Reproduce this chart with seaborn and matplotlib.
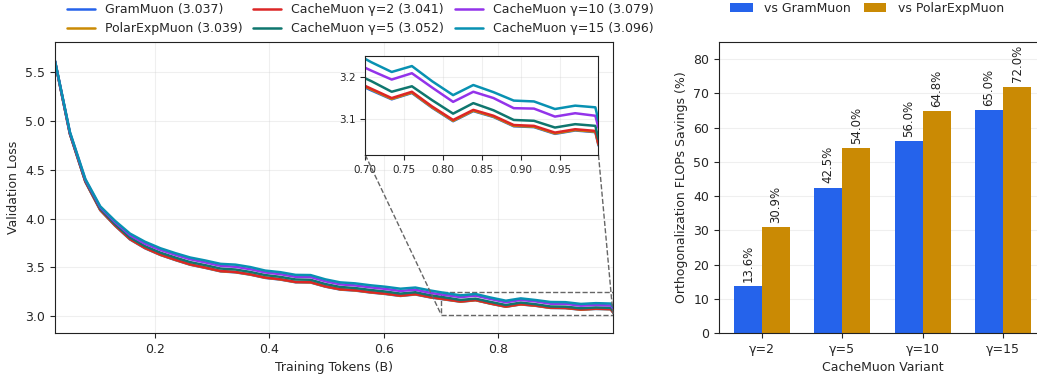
import numpy as np
import pandas as pd
import matplotlib
matplotlib.use("Agg")
import matplotlib.pyplot as plt
import seaborn as sns
from mpl_toolkits.axes_grid1.inset_locator import mark_inset

# ---------------- data ----------------
tokens = [0.026, 0.052, 0.079, 0.105, 0.131, 0.157, 0.183, 0.210, 0.236, 0.262,
          0.288, 0.315, 0.341, 0.367, 0.393, 0.419, 0.446, 0.472, 0.498, 0.524,
          0.550, 0.577, 0.603, 0.629, 0.655, 0.681, 0.708, 0.734, 0.760, 0.786,
          0.813, 0.839, 0.865, 0.891, 0.917, 0.944, 0.970, 0.996, 1.000]

gram = [5.608, 4.866, 4.376, 4.085, 3.925, 3.785, 3.695, 3.626, 3.574, 3.526,
        3.494, 3.458, 3.448, 3.424, 3.391, 3.374, 3.346, 3.344, 3.301, 3.271,
        3.261, 3.241, 3.226, 3.206, 3.221, 3.191, 3.168, 3.147, 3.162, 3.127,
        3.095, 3.119, 3.105, 3.083, 3.081, 3.065, 3.073, 3.069, 3.037]
polar = [5.609, 4.868, 4.378, 4.088, 3.928, 3.788, 3.698, 3.628, 3.576, 3.528,
         3.496, 3.460, 3.450, 3.426, 3.393, 3.376, 3.348, 3.346, 3.303, 3.273,
         3.263, 3.243, 3.228, 3.208, 3.223, 3.193, 3.170, 3.148, 3.163, 3.128,
         3.096, 3.120, 3.106, 3.084, 3.082, 3.066, 3.074, 3.070, 3.039]
cache2 = [5.610, 4.870, 4.380, 4.090, 3.930, 3.790, 3.700, 3.630, 3.578, 3.530,
          3.498, 3.462, 3.452, 3.428, 3.395, 3.378, 3.350, 3.348, 3.305, 3.275,
          3.265, 3.245, 3.230, 3.210, 3.225, 3.195, 3.172, 3.150, 3.165, 3.130,
          3.098, 3.122, 3.108, 3.086, 3.084, 3.068, 3.076, 3.072, 3.041]
cache5 = [5.612, 4.876, 4.388, 4.100, 3.942, 3.805, 3.717, 3.650, 3.600, 3.553,
          3.522, 3.487, 3.477, 3.452, 3.420, 3.402, 3.375, 3.372, 3.328, 3.298,
          3.287, 3.267, 3.251, 3.230, 3.244, 3.213, 3.190, 3.165, 3.178, 3.145,
          3.113, 3.138, 3.121, 3.098, 3.096, 3.080, 3.088, 3.084, 3.052]
cache10 = [5.615, 4.882, 4.398, 4.115, 3.962, 3.828, 3.742, 3.678, 3.628, 3.582,
           3.550, 3.515, 3.505, 3.480, 3.447, 3.430, 3.402, 3.400, 3.356, 3.325,
           3.314, 3.294, 3.278, 3.257, 3.270, 3.238, 3.215, 3.194, 3.209, 3.175,
           3.141, 3.165, 3.150, 3.126, 3.125, 3.106, 3.114, 3.108, 3.079]
cache15 = [5.618, 4.888, 4.405, 4.125, 3.975, 3.845, 3.762, 3.695, 3.645, 3.600,
           3.570, 3.535, 3.527, 3.502, 3.466, 3.450, 3.422, 3.420, 3.376, 3.345,
           3.335, 3.315, 3.300, 3.280, 3.292, 3.262, 3.235, 3.212, 3.226, 3.190,
           3.157, 3.181, 3.164, 3.144, 3.142, 3.124, 3.132, 3.128, 3.096]

series_labels = ["GramMuon (3.037)", "PolarExpMuon (3.039)", "CacheMuon γ=2 (3.041)",
                 "CacheMuon γ=5 (3.052)", "CacheMuon γ=10 (3.079)", "CacheMuon γ=15 (3.096)"]
series_values = [gram, polar, cache2, cache5, cache10, cache15]
series_colors = ["#2563EB", "#CA8A04", "#DC2626", "#0F766E", "#9333EA", "#0891B2"]

variants = ["γ=2", "γ=5", "γ=10", "γ=15"]
vs_gram = [13.6, 42.5, 56.0, 65.0]
vs_polar = [30.9, 54.0, 64.8, 72.0]
bar_groups = ["vs GramMuon", "vs PolarExpMuon"]
bar_colors = ["#2563EB", "#CA8A04"]

# ---------------- figure ----------------
sns.set_style("ticks")
plt.rcParams["font.family"] = ["DejaVu Sans"]
plt.rcParams["axes.edgecolor"] = "#222222"
FS = 9

fig = plt.figure(figsize=(10.37, 3.75), dpi=100)
ax = fig.add_axes([55 / 1037, 1 - 333 / 375, 558 / 1037, 291 / 375])

long_df = pd.DataFrame({
    "tokens": np.tile(tokens, len(series_labels)),
    "loss": np.concatenate([np.array(v) for v in series_values]),
    "series": np.repeat(series_labels, len(tokens)),
})
palette = dict(zip(series_labels, series_colors))

sns.lineplot(data=long_df, x="tokens", y="loss", hue="series", hue_order=series_labels,
             palette=palette, linewidth=1.8, ax=ax, legend=True)
ax.set_xlim(0.026, 1.0)
ax.set_ylim(2.826, 5.81)
ax.set_xticks([0.2, 0.4, 0.6, 0.8])
ax.set_yticks([3.0, 3.5, 4.0, 4.5, 5.0, 5.5])
ax.grid(True, alpha=0.3)
ax.set_xlabel("Training Tokens (B)", fontsize=FS)
ax.set_ylabel("Validation Loss", fontsize=FS)
ax.tick_params(labelsize=FS)
for s in ax.spines.values():
    s.set_visible(True)
    s.set_color("#222222")

handles, labels = ax.get_legend_handles_labels()
ax.legend(handles, labels, ncol=3, loc="lower center", bbox_to_anchor=(0.547, 1.0),
          frameon=False, fontsize=FS, handlelength=2.2, handletextpad=0.8,
          columnspacing=0.9, labelspacing=0.45, borderaxespad=0.15)

# inset
axins = ax.inset_axes([0.556, 0.612, 0.418, 0.34])
sns.lineplot(data=long_df, x="tokens", y="loss", hue="series", hue_order=series_labels,
             palette=palette, linewidth=1.8, ax=axins, legend=False)
axins.set_xlim(0.70, 1.0)
axins.set_ylim(3.015, 3.25)
axins.set_xticks([0.70, 0.75, 0.80, 0.85, 0.90, 0.95])
axins.set_yticks([3.1, 3.2])
axins.set_xticklabels(["0.70", "0.75", "0.80", "0.85", "0.90", "0.95"])
axins.tick_params(labelsize=7.5)
axins.grid(True, alpha=0.3)
axins.set_xlabel("")
axins.set_ylabel("")
axins.set_facecolor("white")
for s in axins.spines.values():
    s.set_visible(True)
    s.set_color("#222222")
mark_inset(ax, axins, loc1=3, loc2=4, fc="none", ec="0.4", ls="--", lw=1)

# ---------------- bar chart ----------------
ax2 = fig.add_axes([719 / 1037, 1 - 333 / 375, 327 / 1037, 291 / 375])
bar_df = pd.DataFrame({
    "variant": variants * 2,
    "savings": vs_gram + vs_polar,
    "group": [bar_groups[0]] * 4 + [bar_groups[1]] * 4,
})
sns.barplot(data=bar_df, x="variant", y="savings", hue="group", hue_order=bar_groups,
            palette=dict(zip(bar_groups, bar_colors)), saturation=1, width=0.7,
            gap=0, linewidth=0, ax=ax2, legend=True)
ax2.set_xlim(-0.535, 3.535)
ax2.set_ylim(0, 85)
ax2.set_yticks(range(0, 81, 10))
ax2.grid(True, axis="y", alpha=0.3)
ax2.set_axisbelow(True)
ax2.set_xlabel("CacheMuon Variant", fontsize=FS)
ax2.set_ylabel("Orthogonalization FLOPs Savings (%)", fontsize=FS)
ax2.tick_params(labelsize=FS)
for s in ax2.spines.values():
    s.set_visible(True)
    s.set_color("#222222")
for cont in ax2.containers:
    for rect in cont:
        h = rect.get_height()
        ax2.annotate(f"{h:.1f}%", (rect.get_x() + rect.get_width() / 2, h),
                     xytext=(0, 3), textcoords="offset points", ha="center",
                     va="bottom", rotation=90, fontsize=8.5, color="#222222")
h2, l2 = ax2.get_legend_handles_labels()
ax2.legend(h2, l2, ncol=2, loc="lower center", bbox_to_anchor=(0.4526, 1.075),
           frameon=False, fontsize=FS, handlelength=1.8, handletextpad=0.9,
           columnspacing=1.05, borderaxespad=0.0)

fig.savefig("out.png", dpi=100)
